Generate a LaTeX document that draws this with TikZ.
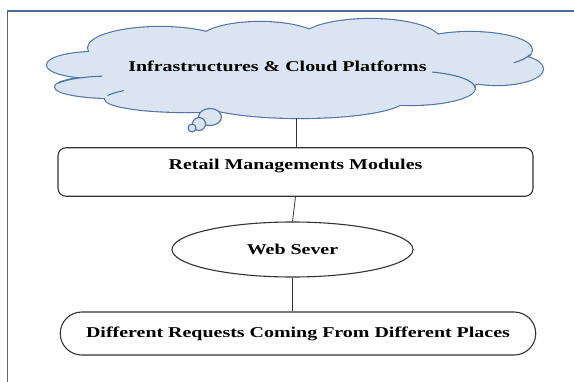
\documentclass[tikz,border=0pt]{standalone}
\usepackage{fontspec}
\newfontfamily\boxfont{Liberation Serif}[FakeStretch=1.33]
\usetikzlibrary{shapes.geometric,shapes.misc}
\definecolor{framecol}{HTML}{4A6B9B}
\definecolor{cloudline}{HTML}{4C72A8}
\definecolor{cloudfill}{HTML}{DBE4F1}
\definecolor{boxline}{HTML}{333333}
% lobes of the cloud: centre x / centre y / x radius / y radius
\newcommand\cloudlobes{295/68/200/38, 95/65/48/13, 112/87/57/11, 160/48/72/21,
    260/40/60/18, 370/40/70/21, 470/50/62/18, 497/69/46/16, 410/88/65/17,
    300/99/105/19, 185/99/80/13}

\begin{document}
\begin{tikzpicture}[x=1pt,y=-1pt,
    cloudy/.style={draw=cloudline,fill=cloudfill,line width=1.1pt},
    box/.style={draw=boxline,line width=1.1pt,inner sep=0pt},
    link/.style={draw=boxline,line width=0.8pt}]
    \useasboundingbox (0,0) rectangle (574,381);
    \begin{scope}[font=\boxfont\bfseries\fontsize{15}{18}\selectfont]

        \draw [framecol, line width=1.7pt] (7.5,11) rectangle (620,420);

        % cloud: outline first, then the fill hides the inner parts
        \foreach \cx/\cy/\rx/\ry in \cloudlobes
            \draw [cloudline, line width=2.2pt] (\cx,\cy) ellipse [x radius=\rx pt, y radius=\ry pt];
        \foreach \cx/\cy/\rx/\ry in \cloudlobes
            \fill [cloudfill] (\cx,\cy) ellipse [x radius=\rx pt, y radius=\ry pt];
        \begin{scope}[cloudline, line width=1.1pt]
            \draw (112,87) ++(160:57pt and 11pt) arc [start angle=160, end angle=100, x radius=57pt, y radius=11pt];
            \draw (185,99) ++(165:80pt and 13pt) arc [start angle=165, end angle=140, x radius=80pt, y radius=13pt];
            \draw (410,88) ++(70:65pt and 17pt) arc [start angle=70, end angle=0, x radius=65pt, y radius=17pt];
            \draw (470,50) ++(-45:62pt and 18pt) arc [start angle=-45, end angle=-15, x radius=62pt, y radius=18pt];
        \end{scope}
        \node (cloudtext) at (277.5,66) {Infrastructures \& Cloud Platforms};
        \coordinate (cloudfoot) at (296,118);

        \node [cloudy, ellipse, minimum width=23pt, minimum height=17pt, inner sep=0pt]
              (bubA) at (210,117) {};
        \node [cloudy, circle, minimum size=13pt, inner sep=0pt] (bubB) at (199,124) {};
        \node [cloudy, circle, minimum size=8pt, inner sep=0pt]  (bubC) at (192,128) {};

        \node [box, rectangle, rounded corners=8pt, minimum width=475pt,
               text height=21.5pt, text depth=27pt]
              (rmm) at (295.5,172) {Retail Managements Modules};
        \node [box, ellipse, minimum width=241pt, minimum height=55pt]
              (web) at (292.5,249.5) {Web Sever};
        \node [box, rounded rectangle, minimum width=475.5pt, minimum height=43pt]
              (req) at (298,333.5) {Different Requests Coming From Different Places};

        \draw [link] (cloudfoot) -- (cloudfoot |- rmm.north);
        \draw [link] (rmm.south) -- (web.north);
        \draw [link] (web.south) -- (web.south |- req.north);
    \end{scope}
\end{tikzpicture}
\end{document}
